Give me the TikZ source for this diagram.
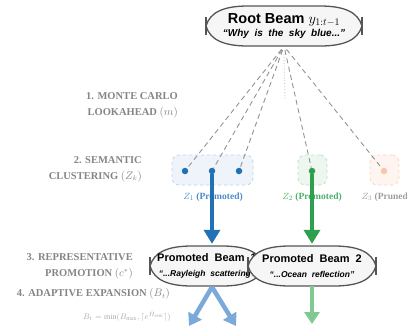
\documentclass[tikz,border=0pt]{standalone}
\usepackage{fontspec}
\setmainfont{Liberation Serif}
\setsansfont{Liberation Sans}
\usetikzlibrary{positioning,arrows.meta}

\definecolor{zblue}{HTML}{2171B5}
\definecolor{zbluelt}{HTML}{7BA9D9}
\definecolor{zbluetx}{HTML}{4C8BC9}
\definecolor{zbluebg}{HTML}{EEF4FA}
\definecolor{zblueln}{HTML}{B9D3EC}
\definecolor{zgreen}{HTML}{2E9F4E}
\definecolor{zgreenlt}{HTML}{80C993}
\definecolor{zgreentx}{HTML}{4CAF6A}
\definecolor{zgreenbg}{HTML}{EEF7EF}
\definecolor{zgreenln}{HTML}{BFE0C5}
\definecolor{zorange}{HTML}{FCC5AB}
\definecolor{zorangebg}{HTML}{FFF5F0}
\definecolor{zorangeln}{HTML}{FAD4C2}
\definecolor{labgray}{HTML}{858585}
\definecolor{beamgray}{HTML}{555555}
\definecolor{beambg}{HTML}{F6F6F6}

% beam outline: centre x, centre y, half width
\newcommand{\beamoutline}[3]{%
  \draw[beamline] (#1-#3,#2) .. controls (#1-#3+4,#2-14) and (#1-#3+18,#2-20) .. (#1-#3+42,#2-20)
    -- (#1+#3-42,#2-20) .. controls (#1+#3-18,#2-20) and (#1+#3-4,#2-14) .. (#1+#3,#2)
    .. controls (#1+#3-4,#2+14) and (#1+#3-18,#2+20) .. (#1+#3-42,#2+20)
    -- (#1-#3+42,#2+20) .. controls (#1-#3+18,#2+20) and (#1-#3+4,#2+14) .. (#1-#3,#2) -- cycle;
  \draw[barline] (#1-#3,#2-9) -- (#1-#3,#2+9) (#1+#3,#2-9) -- (#1+#3,#2+9);
}

\begin{document}
\begin{tikzpicture}[
  x=1pt, y=-1pt,
  beamline/.style={draw=beamgray, fill=beambg, line width=1.3pt},
  barline/.style={draw=beamgray, line width=1.6pt},
  beamtext/.style={minimum height=40pt, inner sep=0pt, align=center, font=\sffamily\bfseries},
  steplab/.style={anchor=east, align=right, inner sep=1pt, text=labgray, font=\fontsize{10.5}{16}\selectfont\bfseries},
  clbox/.style={rounded corners=7pt, dashed, line width=0.8pt, minimum height=30pt},
  dot/.style={circle, inner sep=0pt, minimum size=6.5pt},
  zlab/.style={font=\fontsize{9.5}{11}\selectfont\bfseries},
  lookline/.style={draw=gray!85, line width=0.9pt, dash pattern=on 5pt off 3.5pt, shorten <=4pt},
  bigarrow/.style={line width=4.5pt, -{Triangle[length=14pt,width=16pt]}},
  lightarrow/.style={line width=4.5pt, -{Triangle[length=12pt,width=15pt]}},
]
\useasboundingbox (0,0) rectangle (407,325);

% root beam
\beamoutline{284}{26}{78}
\node[beamtext, minimum width=156pt] (root) at (284,26)
  {{\fontsize{14.5}{16}\selectfont Root Beam $y_{1:t-1}$}\\[1pt]
   {\fontsize{10}{11}\selectfont\itshape “Why\ \ is\ \ the\ \ sky\ \ blue...”}};

% stage labels
\node[steplab] (lab1) at (179,105) {1. MONTE CARLO\\LOOKAHEAD $(m)$};
\node[steplab] (lab2) at (143,169) {2. SEMANTIC\\CLUSTERING $(Z_k)$};
\node[steplab] (lab3) at (134,266) {3. REPRESENTATIVE\\PROMOTION $(c^{*})$};
\node[steplab] (lab4) at (171,294) {4. ADAPTIVE EXPANSION $(B_t)$};
\node[anchor=east, inner sep=0pt, text=labgray!70, font=\fontsize{8}{9}\selectfont] (form) at (171,316)
  {$B_t=\min(B_{\max},\lceil e^{\hat{H}_{\mathrm{sem}}}\rceil)$};

% clusters
\node[clbox, fill=zbluebg, draw=zblueln, minimum width=81pt] (z1) at (212.5,170) {};
\node[clbox, fill=zgreenbg, draw=zgreenln, minimum width=29pt] (z2) at (312.5,170) {};
\node[clbox, fill=zorangebg, draw=zorangeln, minimum width=29pt] (z3) at (384.5,170) {};

\node[dot, fill=zblue] (d1a) at (185,171) {};
\node[dot, fill=zblue] (d1b) at (212,171) {};
\node[dot, fill=zblue] (d1c) at (239,171) {};
\node[dot, fill=zgreen] (d2) at (312,171) {};
\node[dot, fill=zorange] (d3) at (384,171) {};

% lookahead rollouts
\coordinate (lookend) at (285,100);
\draw[draw=gray!45, line width=0.9pt, dotted] ([yshift=-8pt]root.south) -- (lookend);
\foreach \d in {d1a,d1b,d1c,d2,d3}
  \draw[lookline] (root.south) -- (\d);

\node[zlab, text=zbluetx] (z1lab) at (213,197) {$Z_1$ (Promoted)};
\node[zlab, text=zgreentx] (z2lab) at (312,197) {$Z_2$ (Promoted)};
\node[zlab, text=labgray!80, anchor=west] (z3lab) at (358,197) {$Z_3$ (Pruned)};

% promoted beams
\beamoutline{207}{266}{57}
\node[beamtext, minimum width=114pt] (beamA) at (207,266)
  {{\fontsize{11}{13}\selectfont Promoted\ \ Beam\ \ 1}\\[3pt]
   {\fontsize{8.5}{10}\selectfont\itshape “...Rayleigh\ \ scattering”}};
\beamoutline{312}{266}{64}
\node[beamtext, minimum width=128pt] (beamB) at (312,266)
  {{\fontsize{11}{13}\selectfont Promoted\ \ Beam\ \ 2}\\[3pt]
   {\fontsize{8.5}{10}\selectfont\itshape “...Ocean\ \ reflection”}};

% promotion arrows
\draw[bigarrow, zblue, shorten >=2pt] (d1b) -- (d1b |- beamA.north);
\draw[bigarrow, zgreen, shorten >=2pt] (d2) -- (beamB.north);

% expansion
\coordinate (forkA) at (212,287);
\coordinate (expL) at (189,326);
\coordinate (expR) at (236,326);
\coordinate (expG) at (312,324);
\draw[lightarrow, zbluelt] (forkA) -- (expL);
\draw[lightarrow, zbluelt] (forkA) -- (expR);
\draw[lightarrow, zgreenlt] (beamB.south) -- (expG);
\end{tikzpicture}
\end{document}
